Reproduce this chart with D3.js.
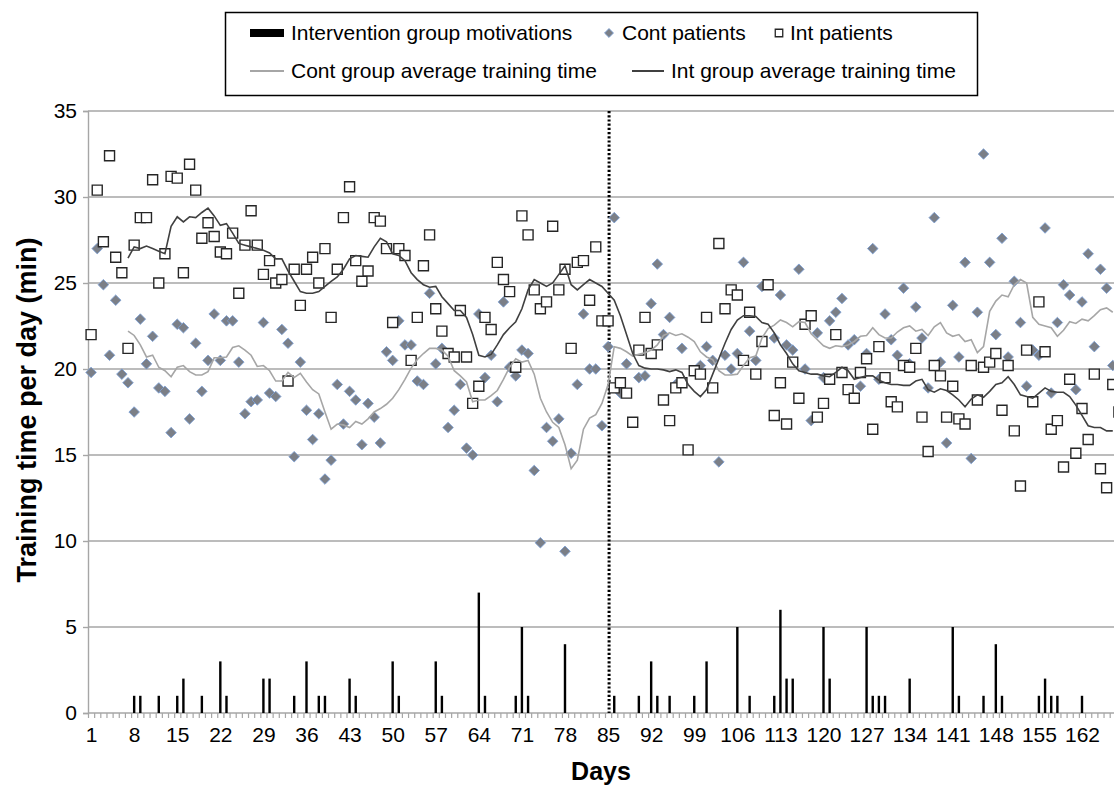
<!DOCTYPE html>
<html><head><meta charset="utf-8">
<script src="https://cdn.jsdelivr.net/npm/d3@7"></script>
<style>body{margin:0;background:#fff} svg{display:block} text{font-family:"Liberation Sans",Arial,sans-serif;fill:#000}</style>
</head><body><svg id="c" width="1114" height="787"></svg>
<script>
const motivationDays = [8,9,12,15,16,19,22,23,29,30,34,36,38,39,43,44,50,51,57,58,64,65,70,71,72,78,86,90,92,93,95,99,101,106,108,112,113,114,115,120,121,127,128,129,130,134,141,142,146,148,149,155,156,157,158,162];
const motivationCounts = [1,1,1,1,2,1,3,1,2,2,1,3,1,1,2,1,3,1,3,1,7,1,1,5,1,4,1,1,3,1,1,1,3,5,1,1,6,2,2,5,2,5,1,1,1,2,5,1,1,4,1,1,2,1,1,1];

const contPatients = [[1,19.8],[2,27.0],[3,24.9],[4,20.8],[5,24.0],[6,19.7],[7,19.2],[8,17.5],[9,22.9],[10,20.3],
[11,21.9],[12,18.9],[13,18.7],[14,16.3],[15,22.6],[16,22.4],[17,17.1],[18,21.5],[19,18.7],[20,20.5],
[21,23.2],[22,20.5],[23,22.8],[24,22.8],[25,20.4],[26,17.4],[27,18.1],[28,18.2],[29,22.7],[30,18.6],
[31,18.4],[32,22.3],[33,21.5],[34,14.9],[35,20.4],[36,17.6],[37,15.9],[38,17.4],[39,13.6],[40,14.7],
[41,19.1],[42,16.8],[43,18.7],[44,18.2],[45,15.6],[46,18.0],[47,17.2],[48,15.7],[49,21.0],[50,20.5],
[51,22.8],[52,21.4],[53,21.4],[54,19.3],[55,19.1],[56,24.4],[57,20.3],[58,21.2],[59,16.6],[60,17.6],
[61,19.1],[62,15.4],[63,15.0],[64,23.2],[65,19.5],[66,20.8],[67,18.1],[68,23.9],[69,20.1],[70,19.6],
[71,21.1],[72,20.9],[73,14.1],[74,9.9],[75,16.6],[76,15.8],[77,17.1],[78,9.4],[79,15.1],[80,19.1],
[81,23.2],[82,20.0],[83,20.0],[84,16.7],[85,21.3],[86,28.8],[87,18.6],[88,20.3],[90,19.5],[91,19.6],
[92,23.8],[93,26.1],[94,22.0],[95,23.0],[96,19.1],[97,21.2],[100,20.2],[101,21.3],[102,20.5],[103,14.6],
[104,20.8],[105,20.0],[106,20.9],[107,26.2],[108,22.2],[109,20.5],[110,24.8],[112,21.8],[113,24.3],[114,21.4],
[115,21.1],[116,25.8],[117,20.0],[118,17.0],[119,22.1],[120,19.5],[121,22.8],[122,23.3],[123,24.1],[124,21.4],
[125,21.7],[126,19.0],[127,20.9],[128,27.0],[129,19.4],[130,23.2],[131,21.7],[132,20.8],[133,24.7],[134,20.3],
[135,23.6],[136,21.8],[137,18.9],[138,28.8],[139,20.4],[140,15.7],[141,23.7],[142,20.7],[143,26.2],[144,14.8],
[145,23.3],[146,32.5],[147,26.2],[148,22.0],[149,27.6],[150,20.7],[151,25.1],[152,22.7],[153,19.0],[154,21.1],
[155,20.8],[156,28.2],[157,18.6],[158,22.7],[159,24.9],[160,24.3],[161,18.8],[162,23.9],[163,26.7],[164,21.3],
[165,25.8],[166,24.7],[167,20.2]];

const intPatients = [[1,22.0],[2,30.4],[3,27.4],[4,32.4],[5,26.5],[6,25.6],[7,21.2],[8,27.2],[9,28.8],[10,28.8],
[11,31.0],[12,25.0],[13,26.7],[14,31.2],[15,31.1],[16,25.6],[17,31.9],[18,30.4],[19,27.6],[20,28.5],
[21,27.7],[22,26.8],[23,26.7],[24,27.9],[25,24.4],[26,27.2],[27,29.2],[28,27.2],[29,25.5],[30,26.3],
[31,25.0],[32,25.2],[33,19.3],[34,25.8],[35,23.7],[36,25.8],[37,26.5],[38,25.0],[39,27.0],[40,23.0],
[41,25.8],[42,28.8],[43,30.6],[44,26.3],[45,25.1],[46,25.7],[47,28.8],[48,28.6],[49,27.0],[50,22.7],
[51,27.0],[52,26.6],[53,20.5],[54,23.0],[55,26.0],[56,27.8],[57,23.5],[58,22.2],[59,20.9],[60,20.7],
[61,23.4],[62,20.7],[63,18.0],[64,19.0],[65,23.0],[66,22.3],[67,26.2],[68,25.2],[69,24.5],[70,20.1],
[71,28.9],[72,27.8],[73,24.6],[74,23.5],[75,23.9],[76,28.3],[77,24.6],[78,25.8],[79,21.2],[80,26.2],
[81,26.3],[82,24.0],[83,27.1],[84,22.8],[85,22.8],[86,18.9],[87,19.2],[88,18.6],[89,16.9],[90,21.1],
[91,23.0],[92,20.9],[93,21.4],[94,18.2],[95,17.0],[96,18.9],[97,19.2],[98,15.3],[99,19.9],[100,19.7],
[101,23.0],[102,18.9],[103,27.3],[104,23.5],[105,24.6],[106,24.3],[107,20.5],[108,23.3],[109,19.7],[110,21.6],
[111,24.9],[112,17.3],[113,19.2],[114,16.8],[115,20.4],[116,18.3],[117,22.6],[118,23.1],[119,17.2],[120,18.0],
[121,19.4],[122,22.0],[123,19.8],[124,18.8],[125,18.3],[126,19.8],[127,20.6],[128,16.5],[129,21.3],[130,19.5],
[131,18.1],[132,17.8],[133,20.2],[134,20.1],[135,21.2],[136,17.2],[137,15.2],[138,20.2],[139,19.6],[140,17.2],
[141,19.0],[142,17.1],[143,16.8],[144,20.2],[145,18.2],[146,20.1],[147,20.4],[148,20.9],[149,17.6],[150,20.2],
[151,16.4],[152,13.2],[153,21.1],[154,18.1],[155,23.9],[156,21.0],[157,16.5],[158,17.0],[159,14.3],[160,19.4],
[161,15.1],[162,17.7],[163,15.9],[164,19.7],[165,14.2],[166,13.1],[167,19.1],[168,17.5]];

const avgStartDay = 7;
const contAvg = [22.2,21.95,21.4,20.7,20.8,20.1,19.9,19.55,20.1,20.2,
19.85,19.65,19.65,19.85,20.65,20.65,20.7,21.25,21.35,21.1,
20.8,20.15,20.2,19.9,19.3,19.3,19.8,19.5,19.75,19.25,
18.8,18.55,17.5,16.5,16.8,16.75,16.6,16.95,16.8,17.1,
17.5,17.7,17.95,18.3,18.8,19.4,20.05,20.55,20.9,21.2,
21.2,21.1,20.75,19.9,19.6,19.25,18.1,18.2,18.2,18.45,
18.75,19.4,20.1,20.6,20.4,20.5,19.7,18.3,17.5,16.9,
16.6,15.6,14.2,14.7,16.5,17.15,17.35,18.0,19.1,21.3,
21.2,21.0,20.75,20.85,20.95,21.1,21.4,21.95,22.1,21.95,
22.05,21.85,21.6,21.0,20.7,20.55,19.9,19.65,19.65,19.7,
20.2,20.65,20.75,21.8,22.35,22.55,22.85,22.7,22.45,22.75,
22.7,22.05,21.7,21.35,21.2,21.35,21.3,21.4,21.6,21.9,
21.95,22.4,22.0,21.8,21.8,22.15,22.4,22.5,22.2,22.3,
21.95,22.45,22.7,22.1,21.9,22.0,21.6,21.7,20.95,21.3,
23.35,23.95,24.3,24.2,24.9,25.2,25.0,23.0,22.6,22.5,
22.4,21.9,22.25,22.75,22.65,22.9,22.8,23.1,23.45,23.55,
23.3];
const intAvg = [26.45,27.1,27.0,27.15,27.0,26.85,26.7,28.3,28.85,28.55,
28.85,28.8,29.1,29.35,28.9,28.35,28.45,27.9,27.3,27.2,
27.1,27.0,26.9,26.75,26.4,26.4,25.7,25.1,24.5,24.4,
24.4,24.5,24.8,25.1,25.35,25.8,26.4,26.6,26.55,26.5,
27.1,27.6,27.4,26.7,26.6,26.3,25.6,25.2,24.9,24.75,
24.8,24.2,23.8,23.4,23.4,23.0,22.0,20.8,20.7,20.85,
21.4,22.0,22.4,22.75,23.5,24.6,25.2,25.0,24.8,25.0,
25.5,26.0,24.9,24.6,24.9,25.2,25.0,24.8,24.4,24.0,
23.1,22.0,20.9,20.2,20.05,20.0,20.0,19.95,19.85,19.95,
19.8,19.1,18.7,18.4,18.8,19.7,20.6,21.5,22.3,22.85,
23.1,23.1,23.05,22.7,22.6,22.1,21.4,20.9,20.3,19.9,
19.8,19.7,19.7,19.6,19.55,19.8,20.1,19.9,19.4,19.5,
19.6,19.6,19.35,19.2,19.1,19.1,19.05,19.05,19.3,19.4,
18.8,18.65,18.85,18.75,18.5,18.2,17.8,18.25,18.5,18.35,
18.7,19.1,19.2,19.55,19.1,18.5,18.4,18.3,18.6,18.9,
18.7,18.65,18.65,18.4,17.9,17.3,16.7,16.6,16.6,16.4,
16.4];

const xTickDays = [1,8,15,22,29,36,43,50,57,64,71,78,85,92,99,106,113,120,127,134,141,148,155,162];
const yTicks = [0,5,10,15,20,25,30,35];
const phaseChangeDay = 85;
const lastDay = 167;

const W = 1114, H = 787;
const FONT = '"Liberation Sans",Arial,sans-serif';
const svg = d3.select('#c');
const x = d3.scaleLinear().domain([0.5, 167.2]).range([88, 1114]);
const y = d3.scaleLinear().domain([0, 35]).range([713, 111]);
const gridColor = '#a6a6a6';

// gridlines
svg.append('g').selectAll('line').data(yTicks.filter(t => t > 0)).join('line')
  .attr('x1', x(0.5)).attr('x2', W).attr('y1', d => y(d)).attr('y2', d => y(d))
  .attr('stroke', gridColor).attr('stroke-width', 1.4);

// y axis
const yAxis = d3.axisLeft(y).tickValues(yTicks).tickSize(5).tickPadding(6).tickFormat(d3.format('d'));
const gy = svg.append('g').attr('transform', `translate(${x(0.5)},0)`).call(yAxis);
gy.select('.domain').attr('stroke', gridColor).attr('stroke-width', 1.4);
gy.selectAll('.tick line').attr('stroke', gridColor).attr('stroke-width', 1.4);
gy.selectAll('.tick text').style('font-size', '21px').style('font-family', FONT).attr('fill', '#000');

// x axis: minor ticks at day boundaries, labels every 7th day
const boundaries = d3.range(0, lastDay + 1).map(k => k + 0.5);
const xMinor = d3.axisBottom(x).tickValues(boundaries).tickSize(5).tickFormat('');
const gxm = svg.append('g').attr('transform', `translate(0,${y(0)})`).call(xMinor);
gxm.select('.domain').remove();
gxm.selectAll('.tick line').attr('stroke', gridColor).attr('stroke-width', 1.2);
svg.append('line').attr('x1', x(0.5)).attr('x2', W).attr('y1', y(0)).attr('y2', y(0))
  .attr('stroke', gridColor).attr('stroke-width', 1.4);
const xLab = d3.axisBottom(x).tickValues(xTickDays).tickSize(0).tickPadding(14).tickFormat(d3.format('d'));
const gxl = svg.append('g').attr('transform', `translate(0,${y(0)})`).call(xLab);
gxl.select('.domain').remove();
gxl.selectAll('.tick text').style('font-size', '21px').style('font-family', FONT).attr('fill', '#000');

// motivation bars
svg.append('g').selectAll('rect').data(motivationDays.map((d, i) => [d, motivationCounts[i]])).join('rect')
  .attr('x', d => x(d[0]) - 1.2).attr('width', 2.4)
  .attr('y', d => y(d[1])).attr('height', d => y(0) - y(d[1]))
  .attr('fill', '#000');

// phase change dotted line
svg.append('line').attr('x1', x(phaseChangeDay) + 1).attr('x2', x(phaseChangeDay) + 1)
  .attr('y1', y(35)).attr('y2', y(0))
  .attr('stroke', '#000').attr('stroke-width', 3).attr('stroke-dasharray', '2.2,2');

// scatter: control patients (diamonds)
const diamond = d3.symbol().type(d3.symbolSquare).size(56);
svg.append('g').selectAll('path').data(contPatients).join('path')
  .attr('d', diamond)
  .attr('transform', d => `translate(${x(d[0])},${y(d[1])}) rotate(45)`)
  .attr('fill', '#7b7f87').attr('stroke', '#7b9fd6').attr('stroke-width', 0.8);

// scatter: intervention patients (squares)
const square = d3.symbol().type(d3.symbolSquare).size(100);
svg.append('g').selectAll('path').data(intPatients).join('path')
  .attr('d', square)
  .attr('transform', d => `translate(${x(d[0])},${y(d[1])})`)
  .attr('fill', '#fff').attr('stroke', '#262626').attr('stroke-width', 1.4);

// average lines
const line = d3.line().x((d, i) => x(avgStartDay + i)).y(d => y(d));
svg.append('path').datum(contAvg).attr('d', line)
  .attr('fill', 'none').attr('stroke', '#a6a6a6').attr('stroke-width', 1.6);
svg.append('path').datum(intAvg).attr('d', line)
  .attr('fill', 'none').attr('stroke', '#404040').attr('stroke-width', 1.6);

// axis titles
svg.append('text').attr('x', 601).attr('y', 780).attr('text-anchor', 'middle')
  .style('font-size', '25px').style('font-weight', 'bold').text('Days');
svg.append('text').attr('transform', 'translate(36,410) rotate(-90)').attr('text-anchor', 'middle')
  .style('font-size', '27px').style('font-weight', 'bold').text('Training time per day (min)');

// legend
const lg = svg.append('g');
lg.append('rect').attr('x', 225.5).attr('y', 12.5).attr('width', 752).attr('height', 83)
  .attr('fill', '#fff').attr('stroke', '#000').attr('stroke-width', 1.5);
const r1 = 33, r2 = 71;
lg.append('rect').attr('x', 250).attr('y', r1 - 4).attr('width', 34).attr('height', 8).attr('fill', '#000');
lg.append('text').attr('x', 291).attr('y', r1).attr('dy', '0.35em').style('font-size', '21px').text('Intervention group motivations');
lg.append('path').attr('d', d3.symbol().type(d3.symbolSquare).size(40))
  .attr('transform', `translate(609,${r1}) rotate(45)`).attr('fill', '#7b7f87').attr('stroke', '#7b9fd6').attr('stroke-width', 0.8);
lg.append('text').attr('x', 622).attr('y', r1).attr('dy', '0.35em').style('font-size', '21px').text('Cont patients');
lg.append('path').attr('d', d3.symbol().type(d3.symbolSquare).size(56))
  .attr('transform', `translate(779,${r1})`).attr('fill', '#fff').attr('stroke', '#262626').attr('stroke-width', 1.3);
lg.append('text').attr('x', 790).attr('y', r1).attr('dy', '0.35em').style('font-size', '21px').text('Int patients');
lg.append('line').attr('x1', 250).attr('x2', 284).attr('y1', r2).attr('y2', r2).attr('stroke', '#a6a6a6').attr('stroke-width', 2);
lg.append('text').attr('x', 291).attr('y', r2).attr('dy', '0.35em').style('font-size', '21px').text('Cont group average training time');
lg.append('line').attr('x1', 632).attr('x2', 664).attr('y1', r2).attr('y2', r2).attr('stroke', '#404040').attr('stroke-width', 2);
lg.append('text').attr('x', 671).attr('y', r2).attr('dy', '0.35em').style('font-size', '21px').text('Int group average training time');
</script></body></html>
